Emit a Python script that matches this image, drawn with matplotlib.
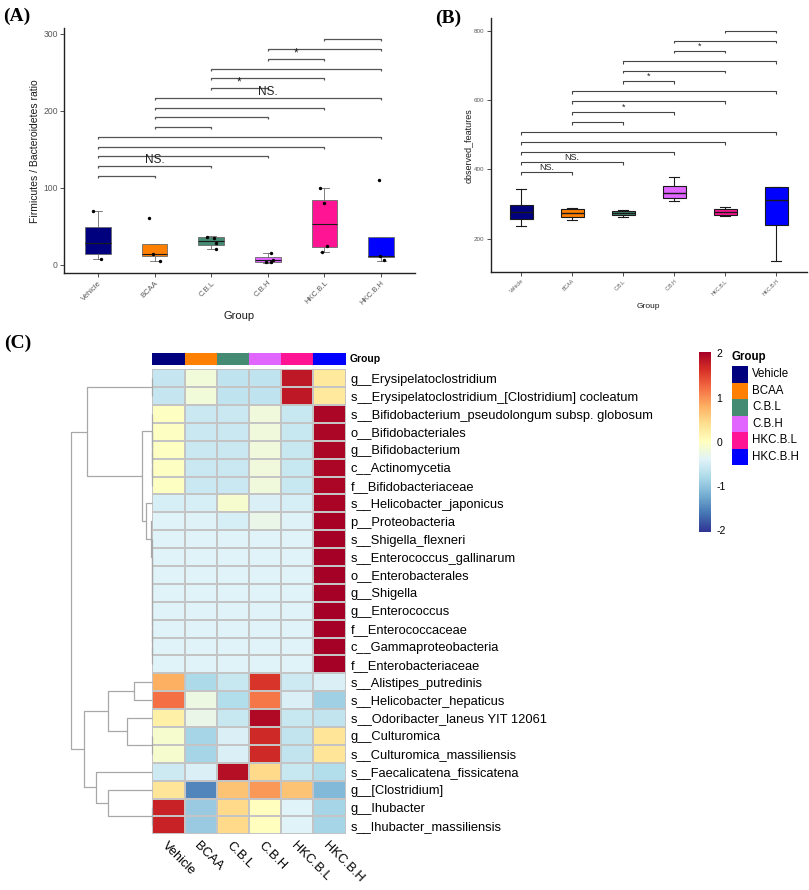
import matplotlib
matplotlib.use("Agg")
import matplotlib.pyplot as plt
import numpy as np

plt.rcParams['font.family'] = ['Liberation Sans', 'DejaVu Sans']
plt.rcParams['axes.unicode_minus'] = False

W, H = 809, 890

groups = ["Vehicle", "BCAA", "C.B.L", "C.B.H", "HKC.B.L", "HKC.B.H"]
group_colors = ["#00007F", "#FF7F00", "#458B74", "#E066FF", "#FF1493", "#0000FF"]

# ---- (A) Firmicutes / Bacteroidetes ratio ----
fb_q1 = [13.9, 11.3, 26.0, 4.3, 22.9, 10.8]
fb_med = [29.0, 14.3, 31.6, 6.9, 52.8, 11.5]
fb_q3 = [49.8, 26.8, 35.9, 10.0, 84.4, 36.8]
fb_lo = [7.8, 5.6, 20.3, 3.0, 16.5, 5.6]
fb_hi = [70.6, 26.8, 38.0, 16.0, 99.6, 36.8]
fb_pt_group = [0, 0, 1, 1, 1, 2, 2, 2, 2, 3, 3, 3, 3, 4, 4, 4, 4, 5, 5, 5]
fb_pt_value = [70.6, 7.8, 60.6, 13.8, 5.6, 36.8, 35.0, 28.0, 20.5,
               15.6, 7.0, 4.0, 4.0, 99.6, 80.0, 25.0, 16.5, 110.0, 12.0, 6.0]
fb_pt_jitter = [-0.08, 0.05, -0.09, -0.03, 0.09, -0.07, 0.05, 0.08, 0.09,
                0.05, 0.09, -0.04, 0.05, -0.08, 0.0, 0.05, -0.05, -0.04, -0.02, 0.05]

# ---- (B) observed features ----
of_q1 = [257.7, 261.5, 267.3, 318.3, 268.3, 238.5]
of_med = [276.0, 275.0, 275.0, 332.7, 277.0, 311.5]
of_q3 = [297.0, 284.6, 280.8, 352.0, 285.6, 350.0]
of_lo = [237.5, 253.8, 263.5, 309.6, 265.4, 135.6]
of_hi = [342.0, 287.5, 282.7, 378.8, 290.4, 350.0]

# pairwise comparisons (1-based group positions)
pairs = [(1, 2), (1, 3), (1, 4), (1, 5), (1, 6), (2, 3), (2, 4), (2, 5),
         (2, 6), (3, 4), (3, 5), (3, 6), (4, 5), (4, 6), (5, 6)]
fb_sig_y = [116, 128.6, 141.6, 153.7, 166.7, 179.7, 191.8, 204.3,
            216.9, 229.9, 242.4, 255, 267.5, 280.5, 293.5]
fb_sig_lab = ["", "NS.", "", "", "", "", "", "", "NS.", "*", "", "", "*", "", ""]
of_sig_y = [391.3, 420, 449, 478, 506.7, 536.5, 565.4, 596,
            626, 654.8, 684.6, 712.5, 742.3, 771, 800]
of_sig_lab = ["NS.", "NS.", "", "", "", "", "*", "", "", "*", "", "", "*", "", ""]

# ---- (C) heatmap (row z-scores) ----
taxa = [
    "g__Erysipelatoclostridium",
    "s__Erysipelatoclostridium_[Clostridium] cocleatum",
    "s__Bifidobacterium_pseudolongum subsp. globosum",
    "o__Bifidobacteriales",
    "g__Bifidobacterium",
    "c__Actinomycetia",
    "f__Bifidobacteriaceae",
    "s__Helicobacter_japonicus",
    "p__Proteobacteria",
    "s__Shigella_flexneri",
    "s__Enterococcus_gallinarum",
    "o__Enterobacterales",
    "g__Shigella",
    "g__Enterococcus",
    "f__Enterococcaceae",
    "c__Gammaproteobacteria",
    "f__Enterobacteriaceae",
    "s__Alistipes_putredinis",
    "s__Helicobacter_hepaticus",
    "s__Odoribacter_laneus YIT 12061",
    "g__Culturomica",
    "s__Culturomica_massiliensis",
    "s__Faecalicatena_fissicatena",
    "g__[Clostridium]",
    "g__Ihubacter",
    "s__Ihubacter_massiliensis",
]
zscores = [
    [-0.62, -0.18, -0.66, -0.66, 1.82, 0.30],
    [-0.62, -0.18, -0.66, -0.66, 1.82, 0.30],
    [-0.02, -0.58, -0.58, -0.20, -0.60, 1.98],
    [-0.02, -0.58, -0.58, -0.20, -0.60, 1.98],
    [-0.02, -0.58, -0.58, -0.20, -0.60, 1.98],
    [-0.02, -0.58, -0.58, -0.20, -0.60, 1.98],
    [-0.02, -0.58, -0.58, -0.20, -0.60, 1.98],
    [-0.48, -0.48, -0.10, -0.46, -0.48, 2.00],
    [-0.40, -0.42, -0.48, -0.30, -0.42, 2.02],
    [-0.41, -0.41, -0.41, -0.41, -0.41, 2.04],
    [-0.41, -0.41, -0.41, -0.41, -0.41, 2.04],
    [-0.41, -0.41, -0.41, -0.41, -0.41, 2.04],
    [-0.41, -0.41, -0.41, -0.41, -0.41, 2.04],
    [-0.41, -0.41, -0.41, -0.41, -0.41, 2.04],
    [-0.41, -0.41, -0.41, -0.41, -0.41, 2.04],
    [-0.41, -0.41, -0.41, -0.41, -0.41, 2.04],
    [-0.41, -0.41, -0.41, -0.41, -0.41, 2.04],
    [0.80, -0.80, -0.60, 1.60, -0.55, -0.45],
    [1.20, -0.25, -0.75, 1.15, -0.45, -0.90],
    [0.20, -0.30, -0.60, 1.95, -0.60, -0.65],
    [-0.10, -0.85, -0.45, 1.70, -0.65, 0.35],
    [-0.10, -0.85, -0.45, 1.70, -0.65, 0.35],
    [-0.55, -0.45, 1.90, 0.45, -0.60, -0.75],
    [0.35, -1.50, 0.65, 0.95, 0.65, -1.10],
    [1.75, -0.95, 0.45, 0.00, -0.40, -0.85],
    [1.75, -0.95, 0.45, 0.00, -0.40, -0.85],
]
z_limit = 2.04

# row dendrogram: (left, right, height); ints are row indices
rows_erysip = (0, 1, 0.0)
rows_bifido = (2, (3, (4, (5, 6, 0.0), 0.0), 0.0), 0.0)
rows_entero = (9, (10, (11, (12, (13, (14, (15, 16, 0.0), 0.0), 0.0), 0.0), 0.0), 0.0), 0.0)
top_clade = (rows_erysip, (rows_bifido, (7, (8, rows_entero, 0.13), 0.63), 1.06), 6.56)
bottom_clade = (((17, 18, 1.83), (19, (20, 21, 0.0), 2.56), 4.46),
                (22, (23, (24, 25, 0.0), 4.46), 5.66), 6.80)
row_tree = (top_clade, bottom_clade, 8.13)


def px_axes(fig, x0, y0, x1, y1):
    return fig.add_axes([x0 / W, 1 - y1 / H, (x1 - x0) / W, (y1 - y0) / H])


def style_gg(ax, tick_size, xtick_size):
    for side in ("top", "right"):
        ax.spines[side].set_visible(False)
    for side in ("left", "bottom"):
        ax.spines[side].set_linewidth(1.0)
        ax.spines[side].set_color("#222222")
    ax.tick_params(axis="both", length=3, width=0.6, color="#333333",
                   labelcolor="#595959", labelsize=tick_size, pad=1.5)
    ax.tick_params(axis="x", labelsize=xtick_size)
    ax.set_xticks(range(1, 7))
    ax.set_xticklabels(groups, rotation=45, ha="right", va="top",
                       rotation_mode="anchor")
    ax.set_xlim(0.4, 6.6)


def draw_boxes(ax, q1, med, q3, lo, hi, edge, lw, med_lw, cap):
    stats = [dict(q1=a, med=m, q3=b, whislo=l, whishi=h, fliers=[])
             for a, m, b, l, h in zip(q1, med, q3, lo, hi)]
    bp = ax.bxp(stats, positions=range(1, 7), widths=0.45, patch_artist=True,
                showfliers=False, capwidths=cap,
                boxprops=dict(edgecolor=edge, linewidth=lw),
                whiskerprops=dict(color=edge, linewidth=lw),
                capprops=dict(color=edge, linewidth=lw),
                medianprops=dict(color="#1A1A1A", linewidth=med_lw))
    for patch, c in zip(bp["boxes"], group_colors):
        patch.set_facecolor(c)


def draw_brackets(ax, ys, labels, tip, fs, color, lw):
    for (i, j), y, lab in zip(pairs, ys, labels):
        ax.plot([i, i, j, j], [y - tip, y, y, y - tip], color=color, lw=lw,
                clip_on=False, solid_capstyle="butt")
        if lab:
            ax.text((i + j) / 2, y, lab, ha="center", va="bottom", fontsize=fs,
                    color="#222222")


def draw_tree(ax, node, color, lw):
    if isinstance(node, int):
        return node + 0.5, 0.0
    left, right, h = node
    yl, hl = draw_tree(ax, left, color, lw)
    yr, hr = draw_tree(ax, right, color, lw)
    ax.plot([hl, h, h, hr], [yl, yl, yr, yr], color=color, lw=lw,
            clip_on=False, solid_capstyle="butt")
    return (yl + yr) / 2, h


fig = plt.figure(figsize=(W / 100, H / 100), dpi=100)

# ------------------------------------------------------------------
# Panel A
# ------------------------------------------------------------------
ax_a = px_axes(fig, 64, 28.3, 415, 273.3)
draw_boxes(ax_a, fb_q1, fb_med, fb_q3, fb_lo, fb_hi, "#6A6A6A", 0.6, 0.8, 0.16)
pt_x = [g + 1 + j for g, j in zip(fb_pt_group, fb_pt_jitter)]
ax_a.scatter(pt_x, fb_pt_value, s=6, color="black", zorder=4, linewidths=0)
draw_brackets(ax_a, fb_sig_y, fb_sig_lab, 2.6, 8.5, "#555555", 0.9)
ax_a.set_ylim(-10.8, 307.4)
ax_a.set_yticks([0, 100, 200, 300])
style_gg(ax_a, 6.2, 5.5)
ax_a.set_ylabel("Firmicutes / Bacteroidetes ratio", fontsize=7.5, color="#1A1A1A")
ax_a.yaxis.set_label_coords(-0.068, 0.5)
ax_a.set_xlabel("Group", fontsize=8, color="#1A1A1A")
ax_a.xaxis.set_label_coords(0.5, -0.155)

# ------------------------------------------------------------------
# Panel B
# ------------------------------------------------------------------
ax_b = px_axes(fig, 490.7, 18.3, 806.7, 272.3)
draw_boxes(ax_b, of_q1, of_med, of_q3, of_lo, of_hi, "#1A1A1A", 0.8, 1.0, 0.2)
draw_brackets(ax_b, of_sig_y, of_sig_lab, 7.5, 6.5, "#444444", 0.8)
ax_b.set_ylim(103.1, 835.7)
ax_b.set_yticks([200, 400, 600, 800])
style_gg(ax_b, 4.5, 3.8)
ax_b.set_ylabel("observed_features", fontsize=6.5, color="#1A1A1A")
ax_b.yaxis.set_label_coords(-0.056, 0.5)
ax_b.set_xlabel("Group", fontsize=6, color="#1A1A1A")
ax_b.xaxis.set_label_coords(0.5, -0.121)

# ------------------------------------------------------------------
# Panel C: heatmap with row dendrogram
# ------------------------------------------------------------------
values = np.array(zscores)
ax_h = px_axes(fig, 152.3, 369.3, 345.7, 834.3)
mesh = ax_h.pcolormesh(values, cmap="RdYlBu_r", vmin=-z_limit, vmax=z_limit,
                       edgecolors="#C4C4C4", linewidth=0.3)
ax_h.set_xlim(0, 6)
ax_h.set_ylim(len(taxa), 0)
for s in ax_h.spines.values():
    s.set_visible(False)
ax_h.yaxis.tick_right()
ax_h.set_yticks(np.arange(len(taxa)) + 0.5)
ax_h.set_yticklabels(taxa)
ax_h.set_xticks(np.arange(len(groups)) + 0.5)
ax_h.set_xticklabels(groups, rotation=-45, ha="left", va="top",
                     rotation_mode="anchor")
ax_h.tick_params(axis="y", length=0, pad=3.5, labelsize=9.3)
ax_h.tick_params(axis="x", length=0, pad=4, labelsize=9.3)

# group annotation bar
ax_ann = px_axes(fig, 152.3, 353.3, 345.7, 365.0)
ax_ann.bar(np.arange(len(groups)) + 0.5, [1] * len(groups), width=1.0,
           color=group_colors, linewidth=0)
ax_ann.set_xlim(0, 6)
ax_ann.set_ylim(0, 1)
ax_ann.axis("off")
ax_ann.text(6.11, 0.5, "Group", ha="left", va="center", fontsize=7.5,
            fontweight="bold")

# dendrogram
ax_d = px_axes(fig, 71, 369.3, 152.3, 834.3)
draw_tree(ax_d, row_tree, "#A8A8A8", 0.9)
ax_d.set_xlim(row_tree[2], 0)
ax_d.set_ylim(len(taxa), 0)
ax_d.axis("off")

# colour bar
cax = px_axes(fig, 699, 351.7, 710.7, 531.7)
cb = fig.colorbar(mesh, cax=cax, ticks=[-2, -1, 0, 1, 2])
cb.outline.set_visible(False)
cax.tick_params(length=0, labelsize=7.5, pad=4)

# group legend
ax_l = px_axes(fig, 731.7, 366, 748.3, 465)
ax_l.barh(range(len(groups)), [1] * len(groups), height=1.0, color=group_colors,
          linewidth=0)
ax_l.set_xlim(0, 1)
ax_l.set_ylim(len(groups) - 0.5, -0.5)
ax_l.axis("off")
for i, g in enumerate(groups):
    ax_l.text(1.22, i, g, va="center", ha="left", fontsize=8.3)
ax_l.text(0.0, -1.05, "Group", va="center", ha="left", fontsize=8.3,
          fontweight="bold")

# panel letters
for label, x, y in [("(A)", 3, 16), ("(B)", 435, 18), ("(C)", 4, 343)]:
    fig.text(x / W, 1 - y / H, label, ha="left", va="center", fontsize=14,
             fontweight="bold", family=["Liberation Serif", "DejaVu Serif"])

fig.savefig("out.png", dpi=100)
